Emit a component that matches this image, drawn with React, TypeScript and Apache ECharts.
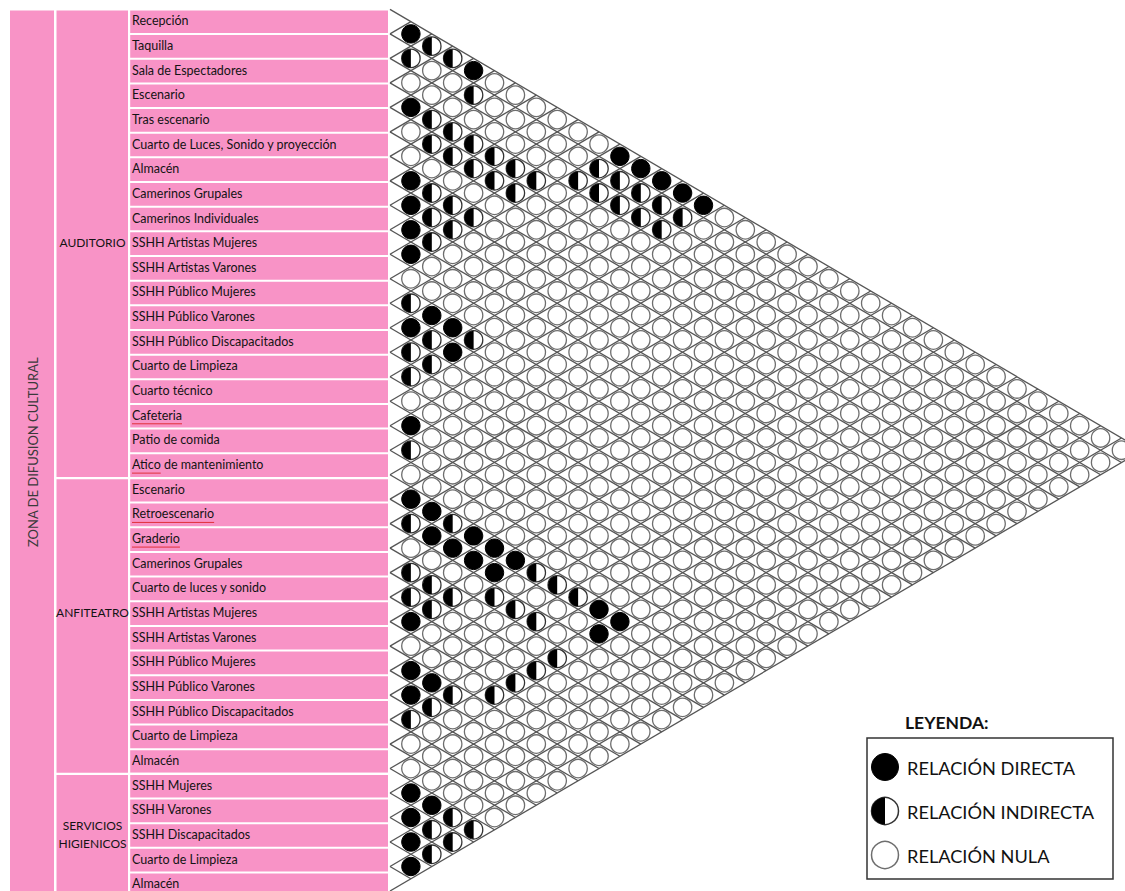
import React, { useEffect, useRef } from 'react';
import * as echarts from 'echarts';

// ---------- data ----------
const zoneLabel = 'ZONA DE DIFUSION CULTURAL';
const groupLabels = ['AUDITORIO', 'ANFITEATRO', 'SERVICIOS\nHIGIENICOS'];
const groupSizes = [19, 12, 5];
const groupLabelRows = [9, 24, 33];

const rowLabels = [
  'Recepción', 'Taquilla', 'Sala de Espectadores', 'Escenario', 'Tras escenario',
  'Cuarto de Luces, Sonido y proyección', 'Almacén', 'Camerinos Grupales', 'Camerinos Individuales',
  'SSHH Artistas Mujeres', 'SSHH Artistas Varones', 'SSHH Público Mujeres', 'SSHH Público Varones',
  'SSHH Público Discapacitados', 'Cuarto de Limpieza', 'Cuarto técnico', 'Cafeteria', 'Patio de comida',
  'Atico de mantenimiento',
  'Escenario', 'Retroescenario', 'Graderio', 'Camerinos Grupales', 'Cuarto de luces y sonido',
  'SSHH Artistas Mujeres', 'SSHH Artistas Varones', 'SSHH Público Mujeres', 'SSHH Público Varones',
  'SSHH Público Discapacitados', 'Cuarto de Limpieza', 'Almacén',
  'SSHH Mujeres', 'SSHH Varones', 'SSHH Discapacitados', 'Cuarto de Limpieza', 'Almacén',
];

// spell-check underlined words: [row, word]
const underlinedWords: [number, string][] = [[16, 'Cafeteria'], [18, 'Atico'], [20, 'Retroescenario'], [21, 'Graderio']];

// relation pairs [rowA, rowB]
const directPairs: [number, number][] = [
  [0, 1], [0, 4], [3, 4], [0, 11], [0, 12], [6, 7], [0, 13], [0, 14], [7, 8], [0, 15], [8, 9], [9, 10],
  [11, 13], [12, 13], [11, 14], [12, 15], [16, 17],
  [19, 20], [19, 21], [20, 22], [19, 23], [20, 23], [19, 24], [20, 24], [19, 25], [20, 25], [24, 25],
  [19, 29], [19, 30], [20, 30], [26, 27], [26, 28], [27, 28],
  [31, 32], [31, 33], [32, 33], [33, 34], [34, 35],
];
const indirectPairs: [number, number][] = [
  [0, 2], [1, 2], [0, 3], [1, 5], [3, 5], [3, 6], [4, 6], [3, 7], [4, 7], [3, 8], [4, 8], [3, 9], [1, 11],
  [4, 9], [3, 10], [2, 11], [1, 12], [6, 8], [4, 10], [2, 12], [1, 13], [6, 9], [2, 13], [1, 14], [7, 9],
  [6, 10], [2, 14], [1, 15], [7, 10], [2, 15], [8, 10], [11, 12], [12, 14], [11, 15], [13, 14], [13, 15],
  [14, 15], [17, 18],
  [20, 21], [19, 22], [22, 23], [19, 26], [22, 24], [19, 27], [23, 24], [22, 25], [21, 26], [19, 28],
  [23, 25], [21, 27], [21, 28], [22, 30], [23, 30], [24, 30], [26, 29], [25, 30], [27, 29], [28, 29],
  [31, 34], [32, 34], [31, 35], [32, 35], [33, 35],
];

const legendTitle = 'LEYENDA:';
const legendLabels = ['RELACIÓN DIRECTA', 'RELACIÓN INDIRECTA', 'RELACIÓN NULA'];
const legendTypes = [2, 1, 0];

// ---------- layout ----------
const W = 1125;
const H = 891;
const N = rowLabels.length;
const TOP = 9.4;
const PITCH = 24.66;
const X0 = 390;
const DX = 20.9;
const R = 9.2;
const PINK = '#F893C6';
const TXT = '#141414';
const FONT = "Lato, 'Open Sans', sans-serif";
const ROW_FONT = 12.5;

function measure(text: string, size: number, weight = 'normal') {
  const c = document.createElement('canvas').getContext('2d');
  if (!c) return text.length * size * 0.45;
  c.font = `${weight} ${size}px Lato, 'Open Sans', sans-serif`;
  return c.measureText(text).width;
}

function symbol(cx: number, cy: number, r: number, t: number, lw: number): any {
  if (t === 2) {
    return { type: 'circle', shape: { cx, cy, r }, style: { fill: '#000', stroke: '#000', lineWidth: 1 } };
  }
  if (t === 1) {
    return {
      type: 'group',
      children: [
        { type: 'circle', shape: { cx, cy, r }, style: { fill: '#fff', stroke: '#333', lineWidth: lw } },
        {
          type: 'sector',
          shape: { cx, cy, r, r0: 0, startAngle: Math.PI / 2, endAngle: (Math.PI * 3) / 2, clockwise: true },
          style: { fill: '#000' },
        },
      ],
    };
  }
  return { type: 'circle', shape: { cx, cy, r }, style: { fill: '#fff', stroke: '#6e6e6e', lineWidth: lw } };
}

export default function App() {
  const ref = useRef<HTMLDivElement>(null);

  useEffect(() => {
    if (!ref.current) return;
    const chart = echarts.init(ref.current, undefined, { renderer: 'svg' });

    const typeOf = new Map<string, number>();
    directPairs.forEach(([a, b]) => typeOf.set(`${a}-${b}`, 2));
    indirectPairs.forEach(([a, b]) => typeOf.set(`${a}-${b}`, 1));

    const cells: number[][] = [];
    for (let i = 0; i < N; i++) {
      for (let j = i + 1; j < N; j++) {
        cells.push([j - i, (i + j) / 2 + 0.5, typeOf.get(`${i}-${j}`) ?? 0]);
      }
    }
    const boundaries: number[][] = [];
    for (let b = 0; b <= N; b++) boundaries.push([0, b]);

    const rowY = (i: number) => TOP + (i + 0.5) * PITCH;
    const bY = (b: number) => TOP + b * PITCH;

    const graphic: any[] = [];
    // pink table background
    graphic.push({ type: 'rect', shape: { x: 10, y: TOP + 1, width: 378, height: H - TOP }, style: { fill: PINK }, silent: true });
    // vertical separators
    graphic.push({ type: 'rect', shape: { x: 54, y: TOP, width: 2.5, height: H }, style: { fill: '#fff' }, silent: true });
    graphic.push({ type: 'rect', shape: { x: 128, y: TOP, width: 2.2, height: H }, style: { fill: '#fff' }, silent: true });
    // row separators
    for (let b = 1; b < N; b++) {
      graphic.push({ type: 'rect', shape: { x: 130, y: bY(b) - 1, width: 258, height: 2 }, style: { fill: '#fff' }, silent: true });
    }
    // group separators
    let acc = 0;
    groupSizes.forEach((s, gi) => {
      if (gi > 0) {
        graphic.push({ type: 'rect', shape: { x: 56, y: bY(acc) - 1, width: 332, height: 2.2 }, style: { fill: '#fff' }, silent: true });
      }
      acc += s;
    });
    // row labels
    rowLabels.forEach((lab, i) => {
      graphic.push({
        type: 'text', x: 132, y: rowY(i) - 1, silent: true,
        style: { text: lab, fill: TXT, font: `${ROW_FONT}px ${FONT}`, align: 'left', verticalAlign: 'middle' },
      });
    });
    underlinedWords.forEach(([row, word]) => {
      const w = measure(word, ROW_FONT);
      graphic.push({
        type: 'line', silent: true,
        shape: { x1: 132, y1: rowY(row) + 7.5, x2: 132 + w, y2: rowY(row) + 7.5 },
        style: { stroke: '#e0303a', lineWidth: 1 },
      });
    });
    // group labels
    groupLabels.forEach((g, gi) => {
      graphic.push({
        type: 'text', x: 92.5, y: rowY(groupLabelRows[gi]) - 1, silent: true,
        style: { text: g, fill: TXT, font: `12px ${FONT}`, align: 'center', verticalAlign: 'middle', lineHeight: 18 },
      });
    });
    // zone label
    graphic.push({
      type: 'text', x: 33, y: (TOP + H) / 2 + 2, rotation: Math.PI / 2, silent: true,
      style: { text: zoneLabel, fill: '#3a3a3a', font: `13px ${FONT}`, align: 'center', verticalAlign: 'middle' },
    });

    // legend
    graphic.push({
      type: 'text', x: 905, y: 722, silent: true,
      style: { text: legendTitle, fill: '#111', font: `bold 17.5px ${FONT}`, align: 'left', verticalAlign: 'middle' },
    });
    graphic.push({
      type: 'rect', shape: { x: 867, y: 738, width: 246, height: 141 }, silent: true,
      style: { fill: '#fff', stroke: '#333', lineWidth: 1.5 },
    });
    legendLabels.forEach((lab, li) => {
      const cy = 767 + li * 44;
      graphic.push(symbol(885, cy, 13.5, legendTypes[li], 1.5));
      graphic.push({
        type: 'text', x: 907, y: cy + 1, silent: true,
        style: { text: lab, fill: '#111', font: `18.2px ${FONT}`, align: 'left', verticalAlign: 'middle' },
      });
    });

    const xMax = (W - X0) / DX;
    const option: any = {
      animation: false,
      backgroundColor: '#fff',
      grid: { left: X0, top: TOP, width: W - X0, height: N * PITCH, containLabel: false },
      xAxis: { type: 'value', min: 0, max: xMax, show: false },
      yAxis: { type: 'value', min: 0, max: N, inverse: true, show: false },
      series: [
        {
          type: 'custom',
          silent: true,
          clip: false,
          encode: { x: 0, y: 1 },
          data: boundaries,
          renderItem: (_p: any, api: any) => {
            const b = api.value(1);
            const children: any[] = [];
            if (b < N) {
              const p1 = api.coord([0, b]);
              const p2 = api.coord([N - b, b + (N - b) / 2]);
              children.push({ type: 'line', shape: { x1: p1[0], y1: p1[1], x2: p2[0], y2: p2[1] }, style: { stroke: '#555', lineWidth: 1.3 } });
            }
            if (b > 0) {
              const p1 = api.coord([0, b]);
              const p2 = api.coord([b, b / 2]);
              children.push({ type: 'line', shape: { x1: p1[0], y1: p1[1], x2: p2[0], y2: p2[1] }, style: { stroke: '#555', lineWidth: 1.3 } });
            }
            return { type: 'group', children };
          },
        },
        {
          type: 'custom',
          silent: true,
          clip: false,
          encode: { x: 0, y: 1 },
          data: cells,
          renderItem: (_p: any, api: any) => {
            const p = api.coord([api.value(0), api.value(1)]);
            return symbol(p[0], p[1], R, api.value(2), 1.3);
          },
        },
      ],
      graphic,
    };
    chart.setOption(option);
    return () => chart.dispose();
  }, []);

  return (
    <div
      ref={ref}
      style={{ position: 'absolute', left: 0, top: 0, width: W, height: H, background: '#fff' }}
    />
  );
}
